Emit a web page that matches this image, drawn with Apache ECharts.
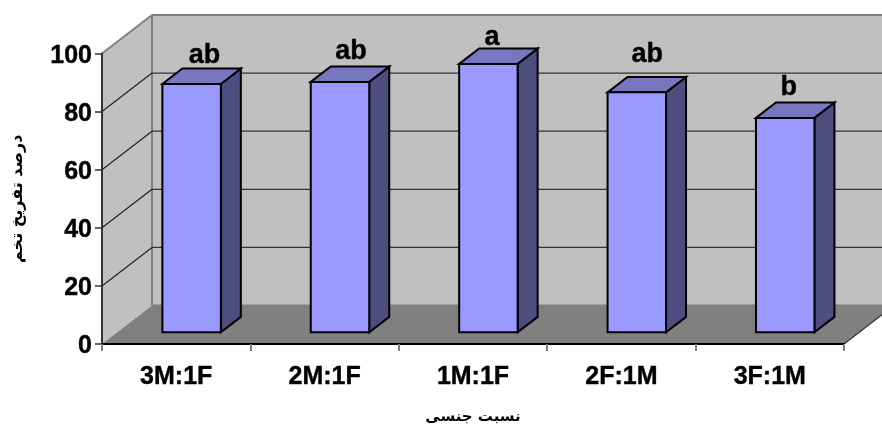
<!DOCTYPE html>
<html><head><meta charset="utf-8">
<style>html,body{margin:0;padding:0;background:#fff}#c{width:882px;height:428px}</style>
<script src="https://cdn.jsdelivr.net/npm/echarts@6/dist/echarts.min.js"></script>
</head><body><div id="c"></div>
<script>
const categories = ['3M:1F','2M:1F','1M:1F','2F:1M','3F:1M'];
const hatchRates = [85.5,86.2,92.4,82.6,73.8];
const letters = ['ab','ab','a','ab','b'];
const yTicks = [0,20,40,60,80,100];
const xTitle = 'نسبت جنسی';
const yTitle = 'درصد تفریخ تخم';

const DX = 50, DY = -38.5;       // box depth
const BX = 15.4, BY = -11.7;     // bar offset from the front plane
const CX = 20, CY = -15.4;       // bar depth
const LBL_DX = [3,1,-6.5,0.5,-6.5];
const LBL_DY = [-4,-6,-2,-14,-6];
const FF = '"Liberation Sans",Arial,sans-serif';
const AR = '"DejaVu Sans",sans-serif';
const poly = (points, fill, stroke, lw) => ({type:'polygon',shape:{points},style:{fill,stroke:stroke||null,lineWidth:lw||0,lineJoin:'miter'}});
const line = (a,b,stroke,lw) => ({type:'line',shape:{x1:a[0],y1:a[1],x2:b[0],y2:b[1]},style:{stroke,lineWidth:lw}});

const chart = echarts.init(document.getElementById('c'),null,{renderer:'canvas'});
chart.setOption({
  animation:false,
  backgroundColor:'#fff',
  grid:{left:102,right:38,top:53.5,height:290.5,containLabel:false,outerBoundsMode:'none'},
  xAxis:{type:'category',data:categories,z:5,
    name:xTitle,nameLocation:'middle',nameGap:66,
    nameTextStyle:{fontFamily:AR,fontWeight:'bold',fontSize:15,color:'#000'},
    axisLine:{lineStyle:{color:'#000',width:2}},
    axisTick:{show:true,alignWithLabel:false,length:7,lineStyle:{color:'#808080',width:2}},
    axisLabel:{fontFamily:FF,fontWeight:'bold',fontSize:25,color:'#000',margin:21,interval:0,textBorderColor:'#000',textBorderWidth:0.4},
    splitLine:{show:false}},
  yAxis:{type:'value',min:0,max:100,interval:20,z:5,
    name:yTitle,nameLocation:'middle',nameGap:76,nameRotate:90,
    nameTextStyle:{fontFamily:AR,fontWeight:'bold',fontSize:16,color:'#000'},
    axisLine:{show:true,lineStyle:{color:'#333',width:2}},
    axisTick:{show:true,length:7,lineStyle:{color:'#333',width:1.5}},
    axisLabel:{fontFamily:FF,fontWeight:'bold',fontSize:25,color:'#000',margin:10,verticalAlign:'top',lineHeight:5,textBorderColor:'#000',textBorderWidth:0.4},
    splitLine:{show:false}},
  series:[
    {type:'custom',z:1,coordinateSystem:'cartesian2d',data:[[categories[0],0]],silent:true,
     renderItem(p,api){
       const c=p.coordSys, L=c.x, R=c.x+c.width, T=c.y, B=c.y+c.height, G='#808080';
       return {type:'group',children:[
         poly([[L,B],[L,T],[L+DX,T+DY],[L+DX,B+DY]],'#C0C0C0'),
         poly([[L+DX,T+DY],[R+DX,T+DY],[R+DX,B+DY],[L+DX,B+DY]],'#C0C0C0'),
         poly([[L,B],[R,B],[R+DX,B+DY],[L+DX,B+DY]],G),
         line([L,T],[L+DX,T+DY],G,2),
         line([L+DX,T+DY],[R+DX,T+DY],G,2),
         line([L+DX,T+DY],[L+DX,B+DY],G,2),
         line([L+DX,B+DY],[R+DX,B+DY],G,2),
         line([R,B],[R+DX,B+DY],'#333',1.2)
       ]};
     }},
    {type:'custom',z:2,coordinateSystem:'cartesian2d',silent:true,
     data:yTicks.filter(t=>t>0&&t<100).map(t=>[categories[0],t]),
     renderItem(p,api){
       const c=p.coordSys, y=api.coord([api.value(0),api.value(1)])[1], L=c.x, R=c.x+c.width;
       return {type:'group',children:[
         line([L,y],[L+DX,y+DY],'#222',1.2),
         line([L+DX,y+DY],[R+DX,y+DY],'#333',1.2)
       ]};
     }},
    {type:'custom',z:3,coordinateSystem:'cartesian2d',silent:true,
     data:hatchRates.map((v,i)=>[categories[i],v]),
     renderItem(p,api){
       const i=p.dataIndex, idx=api.value(0), v=api.value(1);
       const w=api.size([1,0])[0]*0.394;
       const top=api.coord([idx,v]), base=api.coord([idx,0]);
       const x0=top[0]+BX-w/2, x1=top[0]+BX+w/2, yt=top[1]+BY, yb=base[1]+BY;
       const K='#000';
       return {type:'group',children:[
         poly([[x1,yt],[x1+CX,yt+CY],[x1+CX,yb+CY],[x1,yb]],'#4D4D80',K,2),
         poly([[x0,yt],[x0+CX,yt+CY],[x1+CX,yt+CY],[x1,yt]],'#7777BF',K,2),
         poly([[x0,yt],[x1,yt],[x1,yb],[x0,yb]],'#9999FF',K,2),
         {type:'text',style:{text:letters[i],x:x0+w/2+CX/2+LBL_DX[i],y:yt+CY+LBL_DY[i]+5,
           textAlign:'center',textVerticalAlign:'bottom',
           fontFamily:FF,fontWeight:'bold',fontSize:27,fill:'#000',stroke:'#000',lineWidth:0.4}}
       ]};
     }}
  ]
});
</script></body></html>
